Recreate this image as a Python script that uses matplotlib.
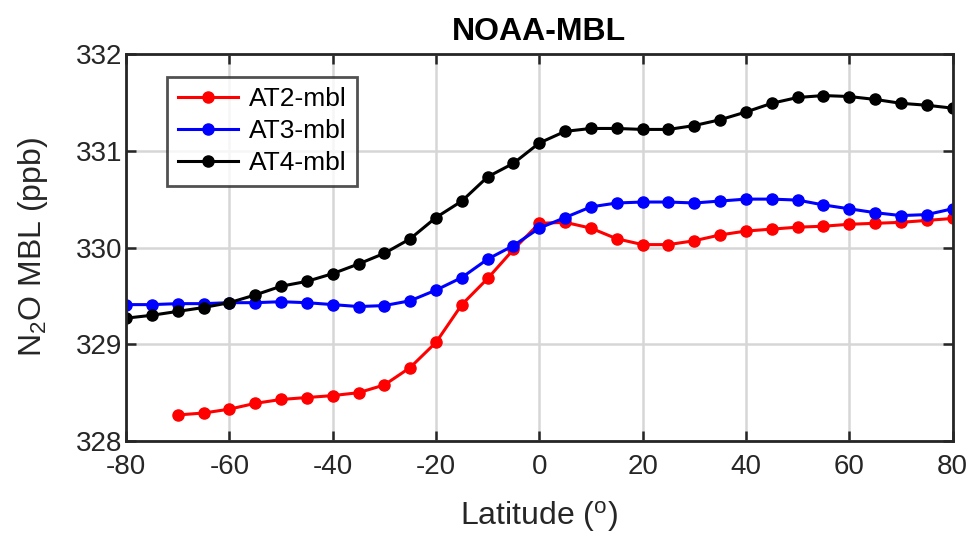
import numpy as np
import matplotlib
matplotlib.use("Agg")
import matplotlib.pyplot as plt

plt.rcParams['font.family'] = ['Liberation Sans', 'DejaVu Sans']
plt.rcParams['mathtext.fontset'] = 'custom'
plt.rcParams['mathtext.rm'] = 'Liberation Sans'
plt.rcParams['mathtext.it'] = 'Liberation Sans'
plt.rcParams['axes.unicode_minus'] = False

# latitude bands
lat_at2 = np.arange(-70, 81, 5)
lat_full = np.arange(-80, 81, 5)

at2 = [328.27, 328.29, 328.33, 328.39, 328.43, 328.45, 328.47, 328.50, 328.58, 328.76,
       329.02, 329.41, 329.68, 329.98, 330.25, 330.26, 330.20, 330.09, 330.03, 330.03,
       330.07, 330.13, 330.17, 330.19, 330.21, 330.22, 330.24, 330.25, 330.26, 330.28,
       330.30]
at3 = [329.41, 329.41, 329.42, 329.42, 329.43, 329.43, 329.44, 329.43, 329.41, 329.39,
       329.40, 329.45, 329.56, 329.69, 329.88, 330.02, 330.20, 330.31, 330.42, 330.46,
       330.47, 330.47, 330.46, 330.48, 330.50, 330.50, 330.49, 330.44, 330.40, 330.36,
       330.33, 330.34, 330.40]
at4 = [329.27, 329.30, 329.34, 329.38, 329.43, 329.51, 329.60, 329.65, 329.73, 329.83,
       329.94, 330.09, 330.31, 330.48, 330.73, 330.87, 331.08, 331.20, 331.23, 331.23,
       331.22, 331.22, 331.26, 331.32, 331.40, 331.49, 331.55, 331.57, 331.56, 331.53,
       331.49, 331.47, 331.44]

xticks = np.arange(-80, 81, 20)
yticks = np.arange(328, 333, 1)

fig = plt.figure(figsize=(9.7, 5.34), dpi=100)
ax = fig.add_axes([0.130, 0.174, 0.852, 0.725])

ax.plot(lat_at2, at2, '-o', color='#ff0000', lw=2.2, ms=8, label='AT2-mbl')
ax.plot(lat_full, at3, '-o', color='#0000ff', lw=2.2, ms=8, label='AT3-mbl')
ax.plot(lat_full, at4, '-o', color='#000000', lw=2.2, ms=8, label='AT4-mbl')

ax.set_xlim(-80, 80)
ax.set_ylim(328, 332)
ax.set_xticks(xticks)
ax.set_yticks(yticks)
ax.grid(True, color='#d6d6d6', lw=1.8)
ax.set_axisbelow(True)
ax.tick_params(direction='in', length=7, width=1.8, labelsize=20, colors='#262626',
               top=True, right=True)
ax.tick_params(axis='y', pad=3)
ax.tick_params(axis='x', pad=9)
for s in ax.spines.values():
    s.set_linewidth(2)
    s.set_color('#262626')

ax.set_title('NOAA-MBL', fontsize=23, fontweight='bold', pad=10)
ax.set_xlabel('Latitude ($^{\\mathrm{o}}$)', fontsize=23, color='#262626', labelpad=14)
ax.set_ylabel('N$_{2}$O MBL (ppb)', fontsize=23, color='#262626', labelpad=18)

leg = ax.legend(loc='upper left', bbox_to_anchor=(0.0496, 0.9406), fontsize=19,
                frameon=True, fancybox=False, edgecolor='#262626',
                handlelength=2.3, borderpad=0.4, labelspacing=0.3, handletextpad=0.4,
                borderaxespad=0)
leg.get_frame().set_linewidth(2)

fig.savefig('out.png', dpi=100)
